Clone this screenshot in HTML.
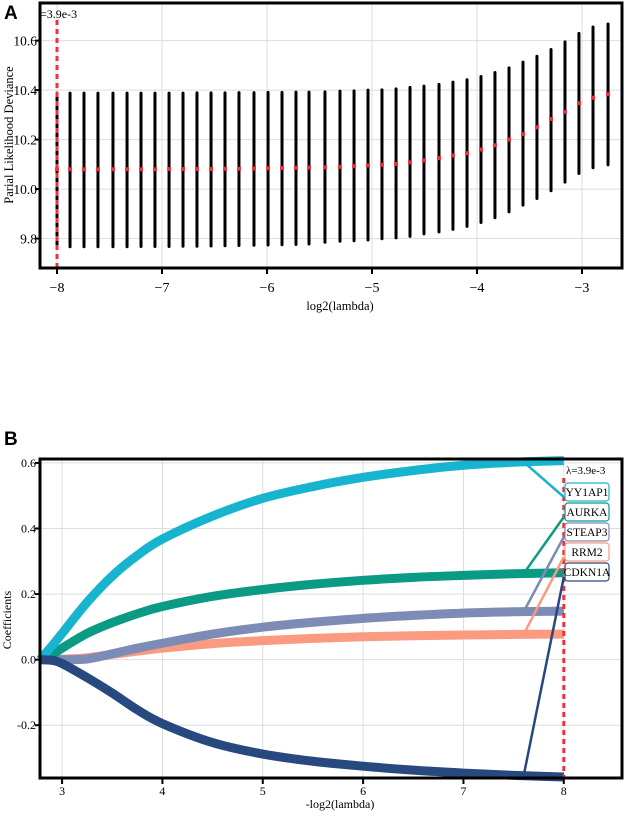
<!DOCTYPE html>
<html><head><meta charset="utf-8"><style>
html,body{margin:0;padding:0;background:#fff;}
svg{display:block;font-family:"Liberation Serif",serif;}
</style></head><body>
<svg id="fig" width="625" height="816" viewBox="0 0 625 816">
<g id="pa"></g>
<g id="pb"></g>
</svg>
<script>
// Panel A data
const aLambda=[-8,-7.876,-7.743,-7.610,-7.467,-7.333,-7.200,-7.067,-6.933,-6.800,-6.667,-6.533,-6.400,-6.267,-6.124,-5.990,-5.857,-5.724,-5.600,-5.448,-5.305,-5.171,-5.038,-4.905,-4.771,-4.638,-4.505,-4.362,-4.229,-4.095,-3.962,-3.829,-3.695,-3.562,-3.429,-3.295,-3.162,-3.029,-2.895,-2.752];
const aMean=[10.080,10.080,10.080,10.080,10.080,10.080,10.080,10.080,10.081,10.081,10.081,10.081,10.082,10.082,10.083,10.084,10.085,10.086,10.087,10.088,10.090,10.093,10.096,10.098,10.102,10.108,10.116,10.125,10.136,10.145,10.160,10.177,10.200,10.222,10.250,10.283,10.312,10.347,10.369,10.383];
const aUpper=[10.388,10.388,10.388,10.388,10.388,10.388,10.388,10.388,10.388,10.388,10.389,10.389,10.389,10.390,10.390,10.391,10.391,10.392,10.392,10.393,10.396,10.397,10.400,10.401,10.405,10.411,10.416,10.423,10.432,10.442,10.455,10.471,10.490,10.513,10.537,10.564,10.595,10.629,10.655,10.667];
const aLower=[9.767,9.767,9.767,9.767,9.767,9.767,9.768,9.768,9.768,9.769,9.769,9.770,9.771,9.772,9.773,9.774,9.775,9.776,9.778,9.785,9.789,9.791,9.794,9.799,9.803,9.809,9.819,9.827,9.837,9.849,9.865,9.884,9.908,9.935,9.962,9.993,10.028,10.063,10.086,10.098];
const aXTicks=[-8,-7,-6,-5,-4,-3];
const aYTicks=[9.8,10.0,10.2,10.4,10.6];
// Panel B data
const bX=[2.78,2.9,3,3.25,3.5,3.75,4,4.5,5,5.5,6,6.5,7,7.5,8];
const bGenes=["YY1AP1","AURKA","STEAP3","RRM2","CDKN1A"];
const bYY1AP1=[0,0.042,0.08,0.175,0.255,0.318,0.368,0.438,0.492,0.528,0.556,0.577,0.593,0.602,0.607];
const bCurveGreen=[0,0.015,0.035,0.08,0.113,0.14,0.162,0.193,0.214,0.23,0.242,0.251,0.257,0.262,0.265];
const bSTEAP3=[0,0,0,0.002,0.018,0.035,0.05,0.078,0.099,0.114,0.126,0.135,0.142,0.146,0.148];
const bRRM2=[0,0,0.001,0.006,0.016,0.026,0.035,0.049,0.058,0.065,0.07,0.073,0.075,0.077,0.078];
const bCDKN1A=[0,-0.002,-0.012,-0.055,-0.102,-0.153,-0.195,-0.253,-0.288,-0.31,-0.325,-0.337,-0.346,-0.353,-0.358];
const bXTicks=[3,4,5,6,7,8];
const bYTicks=[-0.2,0.0,0.2,0.4,0.6];
const NS="http://www.w3.org/2000/svg";
function mk(p,t,a){const e=document.createElementNS(NS,t);for(const k in a)e.setAttribute(k,a[k]);p.appendChild(e);return e;}
// ---- Panel A
const pa=document.getElementById('pa');
const ax={l:40,r:622,t:3,b:268,x0:-8.162,x1:-2.619,y0:9.681,y1:10.752};
const axX=v=>ax.l+(v-ax.x0)/(ax.x1-ax.x0)*(ax.r-ax.l);
const axY=v=>ax.b-(v-ax.y0)/(ax.y1-ax.y0)*(ax.b-ax.t);
aXTicks.forEach(v=>{const g=mk(pa,'line',{x1:axX(v),x2:axX(v),y1:ax.t,y2:ax.b,stroke:'#ddd','stroke-width':1});
});
aYTicks.forEach(v=>{const g=mk(pa,'line',{x1:ax.l,x2:ax.r,y1:axY(v),y2:axY(v),stroke:'#ddd','stroke-width':1});
});
aLambda.forEach((v,i)=>{const b=mk(pa,'line',{x1:axX(v),x2:axX(v),y1:axY(aUpper[i]),y2:axY(aLower[i]),stroke:'#000','stroke-width':3,'stroke-linecap':'round'});
});
aLambda.forEach((v,i)=>{const d=mk(pa,'rect',{x:axX(v)-2,y:axY(aMean[i])-2,width:4,height:4,fill:'#f0303a'});
});
const vl=mk(pa,'line',{x1:axX(-8),x2:axX(-8),y1:20,y2:ax.b,stroke:'#f0303a','stroke-width':3,'stroke-dasharray':'5,4'});

const fa=mk(pa,'path',{d:`M${ax.l} ${ax.t}H${ax.r}V${ax.b}H${ax.l}Z`,fill:'none',stroke:'#000','stroke-width':3});

aXTicks.forEach(v=>{const t=mk(pa,'line',{x1:axX(v),x2:axX(v),y1:ax.b,y2:ax.b+6,stroke:'#000','stroke-width':2});

const l=mk(pa,'text',{x:axX(v),y:292,'text-anchor':'middle','font-size':14});l.textContent='\u2212'+Math.abs(v);
});
aYTicks.forEach(v=>{const t=mk(pa,'line',{x1:ax.l-5,x2:ax.l,y1:axY(v),y2:axY(v),stroke:'#000','stroke-width':2});

const l=mk(pa,'text',{x:ax.l-3,y:axY(v)+5,'text-anchor':'end','font-size':13.5});l.textContent=v.toFixed(1);
});
</script>
<svg style="position:absolute;left:0;top:0" width="625" height="816">
<text x="4" y="19" font-family="Liberation Sans,sans-serif" font-weight="bold" font-size="19">A</text>
<text x="40" y="18" font-family="Liberation Serif,serif" font-size="12">=3.9e-3</text>
<text x="340" y="310" text-anchor="middle" font-family="Liberation Serif,serif" font-size="12.5">log2(lambda)</text>
<text transform="translate(13,135) rotate(-90)" text-anchor="middle" font-family="Liberation Serif,serif" font-size="12.5">Parial Likelihood Deviance</text>
<text x="4" y="445" font-family="Liberation Sans,sans-serif" font-weight="bold" font-size="19">B</text>
<text x="340" y="808" text-anchor="middle" font-family="Liberation Serif,serif" font-size="12">-log2(lambda)</text>
<text transform="translate(11,620) rotate(-90)" text-anchor="middle" font-family="Liberation Serif,serif" font-size="12">Coefficients</text>
</svg>
<script>
const pb=document.getElementById('pb');
const bx={l:40,r:622,t:459,b:778,x0:2.78,x1:8.58,y0:-0.361,y1:0.612};
const bxX=v=>bx.l+(v-bx.x0)/(bx.x1-bx.x0)*(bx.r-bx.l);
const bxY=v=>bx.b-(v-bx.y0)/(bx.y1-bx.y0)*(bx.b-bx.t);
bXTicks.forEach(v=>{const g=mk(pb,'line',{x1:bxX(v),x2:bxX(v),y1:bx.t,y2:bx.b,stroke:'#ddd','stroke-width':1});
});
bYTicks.forEach(v=>{const g=mk(pb,'line',{x1:bx.l,x2:bx.r,y1:bxY(v),y2:bxY(v),stroke:'#ddd','stroke-width':1});
});
const series=[bYY1AP1,bCurveGreen,bSTEAP3,bRRM2,bCDKN1A];
const cols=['#17b4cf','#0b9a84','#7d8cb6','#fa9a80','#27497f'];
const labelY=[492,512,532,552,572];
const drawOrder=[3,2,1,0,4];
function smooth(pts){let d=`M${pts[0][0]} ${pts[0][1]}`;for(let i=1;i<pts.length;i++){const p0=pts[Math.max(0,i-2)],p1=pts[i-1],p2=pts[i],p3=pts[Math.min(pts.length-1,i+1)];
d+=` C${p1[0]+(p2[0]-p0[0])/6} ${p1[1]+(p2[1]-p0[1])/6} ${p2[0]-(p3[0]-p1[0])/6} ${p2[1]-(p3[1]-p1[1])/6} ${p2[0]} ${p2[1]}`;}return d;}
drawOrder.forEach(k=>{const pts=bX.map((v,i)=>[bxX(v),bxY(series[k][i])]);
const c=mk(pb,'path',{d:smooth(pts),fill:'none',stroke:cols[k],'stroke-width':9});
});
const vb=mk(pb,'line',{x1:bxX(8),x2:bxX(8),y1:478,y2:bx.b,stroke:'#f0303a','stroke-width':3,'stroke-dasharray':'5,4'});

series.forEach((s,k)=>{const n=s.length;const yv=s[n-2]+(s[n-1]-s[n-2])*0.2;
const c=mk(pb,'polyline',{points:`${bxX(7.6)},${bxY(yv)} ${bxX(8)},${labelY[k]+5}`,fill:'none',stroke:cols[k],'stroke-width':2.5});

const r=mk(pb,'rect',{x:565,y:labelY[k]-9,width:44,height:18,rx:3,fill:'#fff',stroke:cols[k],'stroke-width':1.2});

const t=mk(pb,'text',{x:587,y:labelY[k]+4,'text-anchor':'middle','font-size':11.5});t.textContent=bGenes[k];
});
const lt=mk(pb,'text',{x:566,y:474,'font-size':11});lt.textContent='\u03bb=3.9e-3';

const fb=mk(pb,'path',{d:`M${bx.l} ${bx.t}H${bx.r}V${bx.b}H${bx.l}Z`,fill:'none',stroke:'#000','stroke-width':3});

bXTicks.forEach(v=>{const t=mk(pb,'line',{x1:bxX(v),x2:bxX(v),y1:bx.b,y2:bx.b+6,stroke:'#000','stroke-width':2});

const l=mk(pb,'text',{x:bxX(v),y:795,'text-anchor':'middle','font-size':12});l.textContent=v;
});
bYTicks.forEach(v=>{const t=mk(pb,'line',{x1:bx.l-5,x2:bx.l,y1:bxY(v),y2:bxY(v),stroke:'#000','stroke-width':2});

const l=mk(pb,'text',{x:bx.l-4,y:bxY(v)+4,'text-anchor':'end','font-size':12});l.textContent=v.toFixed(1);
});
</script>
</body></html>
